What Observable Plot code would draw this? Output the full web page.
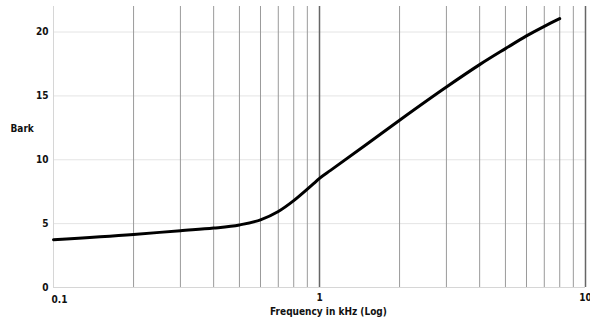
<!DOCTYPE html>
<html>
<head>
<meta charset="utf-8">
<script src="https://cdn.jsdelivr.net/npm/d3@7"></script>
<script src="https://cdn.jsdelivr.net/npm/@observablehq/plot@0.6"></script>
<style>
  html, body { margin: 0; padding: 0; background: #fff; }
  #chart svg { display: block; }
</style>
</head>
<body>
<div id="chart"></div>
<script>
// Frequency (kHz) and the corresponding critical-band rate (Bark)
const freqKHz = [0.1, 0.2, 0.3, 0.4, 0.5, 0.6, 0.7, 0.8, 0.9, 0.95, 1, 1.1, 1.5, 2, 3, 4, 5, 6, 7, 8];
const bark    = [3.74, 4.15, 4.45, 4.65, 4.9, 5.3, 5.95, 6.8, 7.7, 8.13, 8.55, 9.17, 11.2, 13.1, 15.7, 17.45, 18.7, 19.7, 20.45, 21.05];

// Logarithmic grid lines: minor steps and decade lines
const minorGrid = [0.2, 0.3, 0.4, 0.5, 0.6, 0.7, 0.8, 0.9, 2, 3, 4, 5, 6, 7, 8, 9];
const decadeGrid = [1, 10];
const yTicks = [0, 5, 10, 15, 20];
const xTickLabels = [0.1, 1, 10];

const data = freqKHz.map((f, i) => ({f, b: bark[i]}));
const font = "'DejaVu Sans Condensed', 'DejaVu Sans', sans-serif";

const chart = Plot.plot({
  width: 590,
  height: 324,
  marginLeft: 53,
  marginRight: 5,
  marginTop: 6,
  marginBottom: 37,
  style: {fontFamily: font, fontSize: "10px", fontWeight: "bold", color: "#111", background: "#fff"},
  x: {type: "log", domain: [0.1, 10]},
  y: {domain: [0, 22]},
  marks: [
    Plot.ruleY(yTicks.slice(1), {stroke: "#e4e4e4", strokeWidth: 1}),
    Plot.ruleX(minorGrid, {stroke: "#9a9a9a", strokeWidth: 1}),
    Plot.ruleX(decadeGrid, {stroke: "#666", strokeWidth: 1.5}),
    Plot.ruleX([0.1], {stroke: "#d6d6d6", strokeWidth: 1}),
    Plot.ruleY([0], {stroke: "#d6d6d6", strokeWidth: 1}),
    Plot.axisY(yTicks, {tickSize: 0, tickPadding: 5, label: null, fontWeight: "bold"}),
    Plot.axisX(xTickLabels.slice(1), {tickSize: 0, tickPadding: 6, tickFormat: d => String(d), label: null, fontWeight: "bold"}),
    Plot.text(xTickLabels.slice(0, 1), {x: d => d, y: 0, text: d => String(d), textAnchor: "start", dx: -2, dy: 12, fontWeight: "bold"}),
    Plot.text(["Frequency in kHz (Log)"], {frameAnchor: "bottom", text: d => d, dx: 9, dy: 27, fontWeight: "bold"}),
    Plot.text(["Bark"], {frameAnchor: "left", text: d => d, textAnchor: "start", dx: -43, dy: -18, fontWeight: "bold"}),
    Plot.line(data, {x: "f", y: "b", stroke: "#000", strokeWidth: 3, curve: "monotone-x"})
  ]
});

document.getElementById("chart").appendChild(chart);
</script>
</body>
</html>
